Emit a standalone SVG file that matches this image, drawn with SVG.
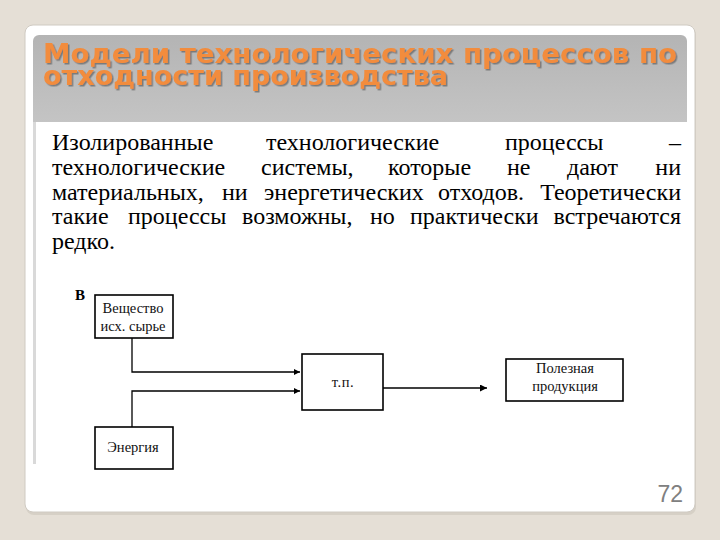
<svg xmlns="http://www.w3.org/2000/svg" width="720" height="540" viewBox="0 0 720 540">
  <defs>
    <linearGradient id="band" x1="0" y1="0" x2="0" y2="1">
      <stop offset="0" stop-color="#b4b4b4"/>
      <stop offset="1" stop-color="#c4c4c4"/>
    </linearGradient>
    <filter id="shadow" x="-5%" y="-20%" width="110%" height="150%">
      <feDropShadow dx="1.5" dy="1.5" stdDeviation="0.6" flood-color="#6a6a6a" flood-opacity="0.8"/>
    </filter>
    <marker id="arr" viewBox="0 0 10 10" refX="10" refY="5" markerWidth="7" markerHeight="6" markerUnits="userSpaceOnUse" orient="auto">
      <path d="M0,0 L10,5 L0,10 z" fill="#000"/>
    </marker>
    <marker id="arr2" viewBox="0 0 10 10" refX="10" refY="5" markerWidth="8" markerHeight="7" markerUnits="userSpaceOnUse" orient="auto">
      <path d="M0,0 L10,5 L0,10 z" fill="#000"/>
    </marker>
  </defs>
  <style>
    .title { font-family: "DejaVu Sans", Verdana, sans-serif; font-weight: bold; font-size: 27px; fill: #f28c3c; }
    .body { font-family: "Liberation Serif", "Times New Roman", serif; font-size: 24px; fill: #000; }
    .end { text-anchor: end; }
    .box { fill: #fff; stroke: #000; stroke-width: 1.6; }
    .lbl { font-family: "Liberation Serif", "Times New Roman", serif; font-size: 14.5px; fill: #111; text-anchor: middle; }
    .conn { fill: none; stroke: #000; stroke-width: 1.3; }
  </style>
  <rect x="0" y="0" width="720" height="540" fill="#e5dfd6"/>
  <!-- card -->
  <rect x="26" y="27" width="670" height="488" rx="8" fill="#d6d0c6"/>
  <rect x="25" y="25" width="670" height="487" rx="8" fill="#fff" stroke="#cfcac2" stroke-width="1"/>
  <!-- title band -->
  <path d="M33,41 a6,6 0 0 1 6,-6 H681 a6,6 0 0 1 6,6 V122 H33 Z" fill="url(#band)"/>
  <g filter="url(#shadow)">
    <text class="title" x="43" y="63" textLength="634" lengthAdjust="spacingAndGlyphs">Модели технологических процессов по</text>
    <text class="title" x="43" y="85" textLength="405" lengthAdjust="spacingAndGlyphs">отходности производства</text>
  </g>
  <!-- left rule -->
  <rect x="33" y="122" width="3" height="342" fill="#d9d9d9"/>
  <!-- body text -->
  <g class="body">
    <text x="52" y="150">Изолированные</text>
    <text x="266" y="150">технологические</text>
    <text x="505" y="150">процессы</text>
    <text class="end" x="681" y="150">–</text>

    <text x="52" y="175">технологические</text>
    <text x="261" y="175">системы,</text>
    <text x="388" y="175">которые</text>
    <text x="507" y="175">не</text>
    <text x="567" y="175">дают</text>
    <text class="end" x="681" y="175">ни</text>

    <text x="52" y="200">материальных,</text>
    <text x="222" y="200">ни</text>
    <text x="264" y="200">энергетических</text>
    <text x="438" y="200">отходов.</text>
    <text class="end" x="681" y="200">Теоретически</text>

    <text x="52" y="224">такие</text>
    <text x="128" y="224">процессы</text>
    <text x="242" y="224">возможны,</text>
    <text x="370" y="224">но</text>
    <text x="410" y="224">практически</text>
    <text class="end" x="681" y="224">встречаются</text>

    <text x="52" y="249">редко.</text>
  </g>
  <!-- diagram -->
  <text x="75" y="300" font-family="Liberation Serif, serif" font-weight="bold" font-size="15" fill="#000">В</text>
  <g id="connectors">
    <path class="conn" d="M132,338 V372 H300" marker-end="url(#arr)"/>
    <path class="conn" d="M132,427 V391 H300" marker-end="url(#arr)"/>
    <path class="conn" d="M383,388 H487" stroke-width="2.2" marker-end="url(#arr2)"/>
  </g>
  <g id="node-substance">
    <rect class="box" x="95" y="295" width="78" height="43"/>
    <text class="lbl" x="133" y="313">Вещество</text>
    <text class="lbl" x="133" y="331">исх. сырье</text>
  </g>
  <g id="node-tp">
    <rect class="box" x="302" y="354" width="81" height="56"/>
    <text class="lbl" x="343" y="387" font-size="17" letter-spacing="0.5">т.п.</text>
  </g>
  <g id="node-product">
    <rect class="box" x="506" y="359" width="117" height="42"/>
    <text class="lbl" x="565" y="373">Полезная</text>
    <text class="lbl" x="565" y="391">продукция</text>
  </g>
  <g id="node-energy">
    <rect class="box" x="95" y="427" width="78" height="42"/>
    <text class="lbl" x="133" y="452">Энергия</text>
  </g>
  <text x="683" y="502" text-anchor="end" font-family="Liberation Sans, Arial, sans-serif" font-size="23" fill="#808080">72</text>
</svg>
